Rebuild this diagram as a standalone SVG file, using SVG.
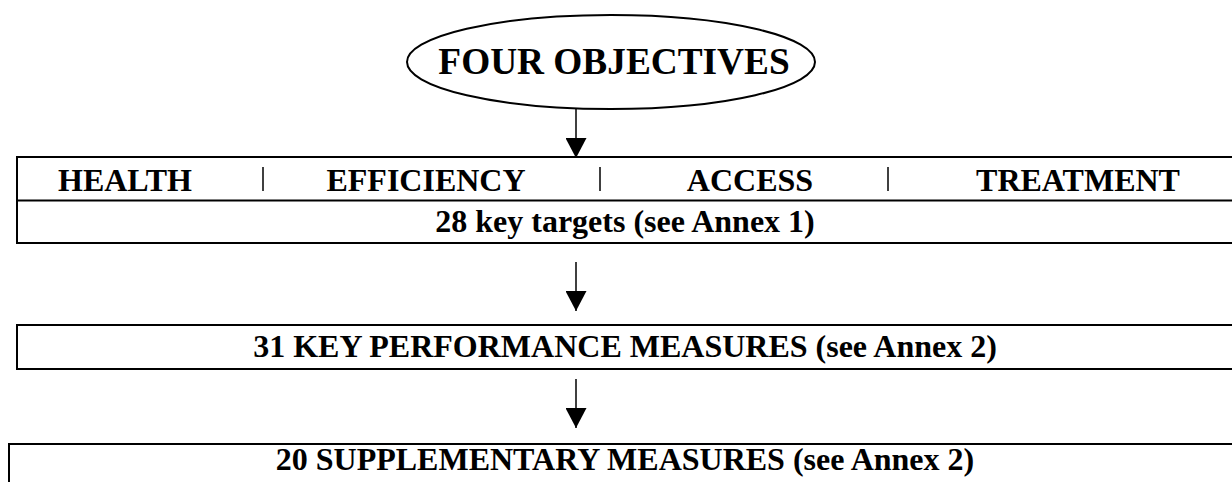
<svg xmlns="http://www.w3.org/2000/svg" width="1232" height="482" viewBox="0 0 1232 482">
  <style>
    .box { fill: none; stroke: #000; stroke-width: 2; }
    .sep { stroke: #000; stroke-width: 1.5; }
    .lbl { font-family: "Liberation Serif", "Times New Roman", Tinos, "DejaVu Serif", serif; font-weight: bold; fill: #000; text-anchor: middle; font-size: 32px; }
    .conn { stroke: #000; stroke-width: 1.5; fill: none; }
  </style>
  <defs>
    <marker id="head" viewBox="0 0 20 21" refX="20" refY="10.5" markerWidth="20" markerHeight="21" markerUnits="userSpaceOnUse" orient="auto">
      <path d="M0,0 L20,10.5 L0,21 Z" fill="#000"/>
    </marker>
  </defs>
  <rect width="1232" height="482" fill="#fff"/>

  <g id="objectives">
    <ellipse cx="611" cy="62" rx="204" ry="47" class="box" stroke-width="1.5"/>
    <text x="614" y="74" class="lbl" style="font-size:37.3px">FOUR OBJECTIVES</text>
  </g>

  <g id="targets">
    <path d="M1240,157 H17 V243 H1240 M17,200.5 H1240" class="box"/>
    <line x1="263" y1="167" x2="263" y2="191" class="sep"/>
    <line x1="600" y1="167" x2="600" y2="191" class="sep"/>
    <line x1="888" y1="167" x2="888" y2="191" class="sep"/>
    <text x="125" y="191" class="lbl">HEALTH</text>
    <text x="426" y="191" class="lbl">EFFICIENCY</text>
    <text x="750" y="191" class="lbl">ACCESS</text>
    <text x="1078" y="191" class="lbl">TREATMENT</text>
    <text x="625" y="232" class="lbl">28 key targets (see Annex 1)</text>
  </g>

  <g id="performance">
    <path d="M1240,325 H17 V369 H1240" class="box"/>
    <text x="625" y="357" class="lbl">31 KEY PERFORMANCE MEASURES (see Annex 2)</text>
  </g>

  <g id="supplementary">
    <path d="M1240,444 H9 V490" class="box"/>
    <text x="625" y="470" class="lbl">20 SUPPLEMENTARY MEASURES (see Annex 2)</text>
  </g>

  <g id="connectors">
    <line x1="576" y1="109" x2="576" y2="158" class="conn" marker-end="url(#head)"/>
    <line x1="576" y1="262" x2="576" y2="311" class="conn" marker-end="url(#head)"/>
    <line x1="576" y1="379" x2="576" y2="428" class="conn" marker-end="url(#head)"/>
  </g>
</svg>
